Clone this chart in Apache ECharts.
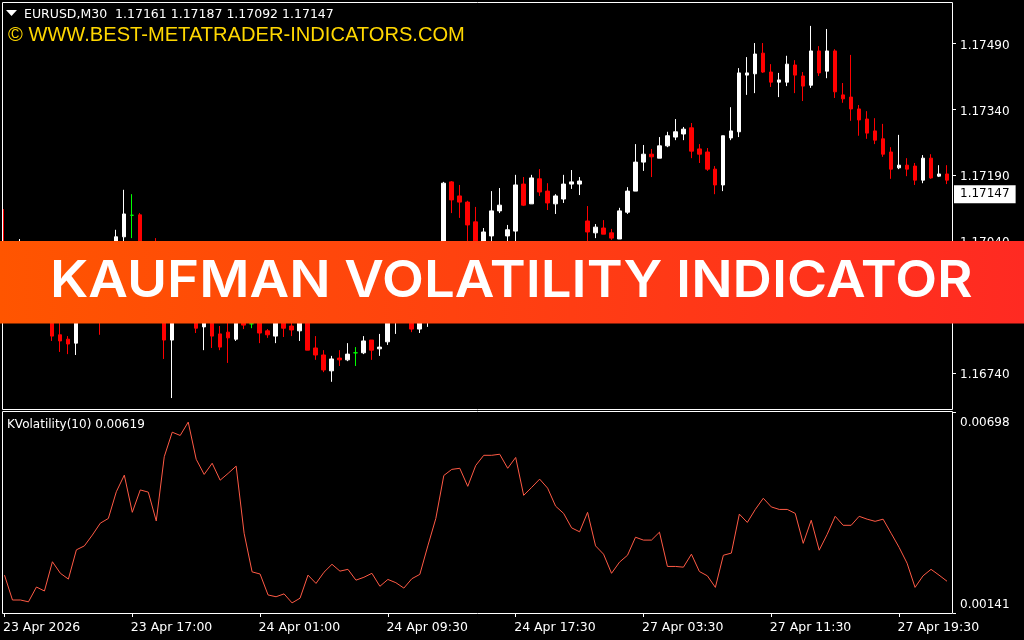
<!DOCTYPE html>
<html>
<head>
<meta charset="utf-8">
<style>html,body{margin:0;padding:0;background:#000}#c{width:1024px;height:640px}</style>
<script src="https://cdn.jsdelivr.net/npm/echarts@6/dist/echarts.min.js"></script>
</head>
<body>
<div id="c"></div>
<script>
const tickLabels = ['23 Apr 2026','23 Apr 17:00','24 Apr 01:00','24 Apr 09:30','24 Apr 17:30','27 Apr 03:30','27 Apr 11:30','27 Apr 19:30'];
const priceTicks = [1.1749,1.1734,1.1719,1.1704,1.1689,1.1674];
const volTicks = [0.00698,0.00141];
const lastPrice = 1.17147;
const opens = [1.17031,1.16963,1.16974,1.16993,1.16963,1.16940,1.16906,1.16827,1.16817,1.16808,
1.16895,1.16879,1.16918,1.16929,1.16986,1.17050,1.17099,1.17100,1.17009,1.17020,
1.16929,1.16815,1.16918,1.16883,1.16895,1.16845,1.16892,1.16829,1.16833,1.16817,
1.16854,1.16852,1.16883,1.16836,1.16824,1.16879,1.16847,1.16836,1.16906,1.16797,
1.16781,1.16745,1.16774,1.16770,1.16786,1.16786,1.16815,1.16795,1.16811,1.16861,
1.16883,1.16906,1.16840,1.16872,1.16940,1.17020,1.17175,1.17143,1.17129,1.17084,
1.16997,1.17052,1.17109,1.17052,1.17063,1.17170,1.17125,1.17182,1.17154,1.17125,
1.17136,1.17170,1.17170,1.17086,1.17059,1.17070,1.17059,1.17045,1.17106,1.17154,
1.17220,1.17238,1.17229,1.17257,1.17277,1.17284,1.17298,1.17250,1.17243,1.17204,
1.17168,1.17275,1.17289,1.17418,1.17421,1.17468,1.17425,1.17402,1.17402,1.17441,
1.17416,1.17395,1.17473,1.17427,1.17473,1.17373,1.17368,1.17341,1.17318,1.17291,
1.17273,1.17243,1.17207,1.17213,1.17211,1.17179,1.17229,1.17188,1.17193];
const closes = [1.16986,1.17009,1.17020,1.16952,1.16918,1.16883,1.16824,1.16813,1.16806,1.16883,
1.16865,1.16915,1.16872,1.16986,1.17050,1.17102,1.17099,1.17009,1.16970,1.16940,
1.16815,1.16906,1.16879,1.16929,1.16842,1.16888,1.16824,1.16799,1.16820,1.16883,
1.16849,1.16852,1.16831,1.16827,1.16895,1.16842,1.16838,1.16879,1.16792,1.16781,
1.16747,1.16772,1.16770,1.16783,1.16786,1.16813,1.16792,1.16799,1.16906,1.16906,
1.16918,1.16840,1.16918,1.16974,1.17020,1.17172,1.17134,1.17129,1.17077,1.17009,
1.17061,1.17109,1.17122,1.17066,1.17168,1.17122,1.17184,1.17152,1.17127,1.17143,
1.17170,1.17175,1.17177,1.17061,1.17072,1.17056,1.17047,1.17109,1.17154,1.17220,
1.17238,1.17232,1.17257,1.17280,1.17289,1.17295,1.17245,1.17238,1.17204,1.17168,
1.17280,1.17291,1.17423,1.17423,1.17466,1.17425,1.17402,1.17407,1.17443,1.17418,
1.17393,1.17473,1.17423,1.17473,1.17380,1.17364,1.17341,1.17316,1.17286,1.17270,
1.17238,1.17204,1.17213,1.17204,1.17179,1.17229,1.17184,1.17193,1.17179];
const lows = [1.16963,1.16940,1.16952,1.16934,1.16895,1.16865,1.16813,1.16788,1.16783,1.16781,
1.16856,1.16865,1.16827,1.16906,1.16970,1.17020,1.17047,1.16993,1.16940,1.16924,
1.16772,1.16683,1.16865,1.16861,1.16831,1.16792,1.16797,1.16792,1.16763,1.16813,
1.16840,1.16842,1.16808,1.16820,1.16808,1.16822,1.16824,1.16813,1.16792,1.16770,
1.16742,1.16720,1.16756,1.16767,1.16756,1.16783,1.16770,1.16779,1.16804,1.16829,
1.16865,1.16833,1.16831,1.16845,1.16924,1.16993,1.17104,1.17093,1.17020,1.16979,
1.16974,1.17020,1.17104,1.17029,1.17034,1.17120,1.17125,1.17143,1.17111,1.17102,
1.17127,1.17159,1.17145,1.17020,1.17047,1.17056,1.17043,1.17045,1.17102,1.17154,
1.17200,1.17186,1.17229,1.17254,1.17270,1.17270,1.17229,1.17218,1.17200,1.17147,
1.17154,1.17270,1.17277,1.17373,1.17377,1.17423,1.17391,1.17368,1.17393,1.17377,
1.17359,1.17389,1.17416,1.17411,1.17366,1.17355,1.17314,1.17280,1.17273,1.17261,
1.17232,1.17182,1.17204,1.17188,1.17168,1.17172,1.17182,1.17186,1.17170];
const highs = [1.17113,1.17020,1.17045,1.17009,1.16979,1.16952,1.16929,1.16865,1.16824,1.16906,
1.16906,1.16929,1.16940,1.17002,1.17066,1.17157,1.17147,1.17104,1.17031,1.17047,
1.16974,1.16952,1.16940,1.16952,1.16906,1.16915,1.16915,1.16847,1.16883,1.16906,
1.16879,1.16872,1.16906,1.16840,1.16911,1.16899,1.16865,1.16895,1.16929,1.16824,
1.16792,1.16779,1.16792,1.16808,1.16799,1.16824,1.16815,1.16829,1.16929,1.16929,
1.16940,1.16929,1.16940,1.16993,1.17036,1.17175,1.17177,1.17168,1.17132,1.17118,
1.17070,1.17154,1.17161,1.17077,1.17191,1.17186,1.17191,1.17204,1.17172,1.17147,
1.17191,1.17202,1.17186,1.17120,1.17079,1.17088,1.17068,1.17116,1.17163,1.17261,
1.17259,1.17250,1.17277,1.17289,1.17318,1.17300,1.17309,1.17261,1.17252,1.17211,
1.17280,1.17345,1.17434,1.17459,1.17491,1.17491,1.17443,1.17423,1.17462,1.17452,
1.17425,1.17530,1.17484,1.17523,1.17477,1.17400,1.17464,1.17350,1.17336,1.17320,
1.17307,1.17254,1.17282,1.17229,1.17218,1.17236,1.17238,1.17213,1.17213];
const volatility = [246,177,177,172,213,202,283,251,235,316,327,357,390,403,477,523,420,482,476,396,
574,642,633,670,567,525,556,509,528,548,362,255,249,191,186,194,169,182,246,223,
254,276,257,262,232,240,251,215,234,225,210,236,248,327,403,522,539,542,492,550,
578,578,581,542,572,467,489,512,487,437,417,377,366,420,327,304,251,282,301,351,
343,343,365,270,270,268,304,256,244,212,301,307,415,392,428,459,435,428,428,417,
334,398,315,359,409,384,384,409,401,395,401,362,323,279,212,244,262,246,229].map(v => v / 100000);

const categories = opens.map((_, i) => i % 16 === 0 ? tickLabels[i / 16] : ' ');
const candles = opens.map((o, i) => [o, closes[i], lows[i], highs[i]]);
const uiFont = '"DejaVu Sans"';
const priceMin = 1.166581, priceMax = 1.175844;

const chart = echarts.init(document.getElementById('c'), null, {renderer: 'canvas'});
chart.setOption({
  animation: false,
  backgroundColor: '#000',
  grid: [
    {left: -1, width: 952, top: 2, height: 407},
    {left: -1, width: 952, top: 412, height: 201}
  ],
  xAxis: [
    {type: 'category', gridIndex: 0, data: categories, show: false},
    {type: 'category', gridIndex: 1, data: categories,
      axisLine: {show: false},
      axisTick: {show: true, interval: 15, alignWithLabel: true, length: 4, lineStyle: {color: '#fff'}},
      axisLabel: {interval: 15, align: 'left', margin: 8, color: '#fff', fontFamily: uiFont, fontSize: 12.5, hideOverlap: false, padding: [0, 0, 0, -1.5]},
      splitLine: {show: false}}
  ],
  yAxis: [
    {type: 'value', gridIndex: 0, position: 'right', offset: 2, min: priceMin, max: priceMax,
      axisLine: {show: false},
      axisTick: {show: true, length: 3, customValues: priceTicks, lineStyle: {color: '#fff'}},
      axisLabel: {customValues: priceTicks, margin: 7, color: '#fff', fontFamily: uiFont, fontSize: 12, verticalAlign: 'top', lineHeight: 4, formatter: v => v.toFixed(5)},
      splitLine: {show: false}},
    {type: 'value', gridIndex: 1, position: 'right', offset: 2, min: 0.00141, max: 0.00698,
      axisLine: {show: false},
      axisTick: {show: true, length: 3, customValues: volTicks, lineStyle: {color: '#fff'}},
      axisLabel: {customValues: volTicks, margin: 7, color: '#fff', fontFamily: uiFont, fontSize: 12,
        verticalAlignMinLabel: 'top', verticalAlignMaxLabel: 'bottom',
        formatter: v => (v > 0.004 ? '{hi|' : '{lo|') + v.toFixed(5) + '}',
        rich: {hi: {lineHeight: 22, fontFamily: uiFont, fontSize: 12, color: '#fff'}, lo: {lineHeight: 16, fontFamily: uiFont, fontSize: 12, color: '#fff'}}},
      splitLine: {show: false}},
    {type: 'value', gridIndex: 0, position: 'right', offset: 2, min: priceMin, max: priceMax,
      axisLine: {show: false}, axisTick: {show: false}, splitLine: {show: false},
      axisLabel: {customValues: [lastPrice], margin: 1, color: '#000', backgroundColor: '#fff', padding: [3, 6, 3, 6],
        fontFamily: uiFont, fontSize: 12, formatter: v => v.toFixed(5)}}
  ],
  series: [
    {type: 'candlestick', xAxisIndex: 0, yAxisIndex: 0, data: candles, barWidth: 4, clip: false, silent: true,
      itemStyle: {color: '#fff', color0: '#ff0000', borderColor: '#fff', borderColor0: '#ff0000', borderColorDoji: '#00ff00', borderWidth: 1}},
    {type: 'line', xAxisIndex: 1, yAxisIndex: 1, data: volatility, showSymbol: false, silent: true,
      lineStyle: {color: '#ff5a45', width: 1}}
  ],
  graphic: [
    {type: 'rect', z: 1, silent: true, shape: {x: 2.5, y: 2.5, width: 950, height: 407}, style: {fill: 'none', stroke: '#fff', lineWidth: 1}},
    {type: 'rect', z: 1, silent: true, shape: {x: 2.5, y: 411.5, width: 950, height: 202}, style: {fill: 'none', stroke: '#fff', lineWidth: 1}},
    {type: 'polygon', z: 50, silent: true, shape: {points: [[6, 10], [17, 10], [11.5, 16]]}, style: {fill: '#fff'}},
    {type: 'text', z: 50, silent: true, x: 24, y: 15, style: {text: 'EURUSD,M30  1.17161 1.17187 1.17092 1.17147', fill: '#fff', font: '12.5px "DejaVu Sans"', textVerticalAlign: 'middle'}},
    {type: 'text', z: 50, silent: true, x: 8, y: 35, style: {text: '\u00a9 WWW.BEST-METATRADER-INDICATORS.COM', fill: '#ffd700', font: '20.13px "Liberation Sans"', textVerticalAlign: 'middle'}},
    {type: 'text', z: 50, silent: true, x: 7, y: 425, style: {text: 'KVolatility(10) 0.00619', fill: '#fff', font: '12px "DejaVu Sans"', textVerticalAlign: 'middle'}},
    {type: 'rect', z: 100, silent: true, shape: {x: 0, y: 241, width: 1024, height: 82.5},
      style: {fill: new echarts.graphic.LinearGradient(0, 0, 1, 0, [{offset: 0, color: '#ff5500'}, {offset: 1, color: '#ff2a22'}])}},
    {type: 'text', z: 101, silent: true, x: 50, y: 281.5, originX: 0, originY: 0, scaleX: 1.0696, style: {text: 'KAUFMAN VOLATILITY INDICATOR', fill: '#fff', font: '600 51px Inter', textVerticalAlign: 'middle'}}
  ]
});
</script>
</body>
</html>
